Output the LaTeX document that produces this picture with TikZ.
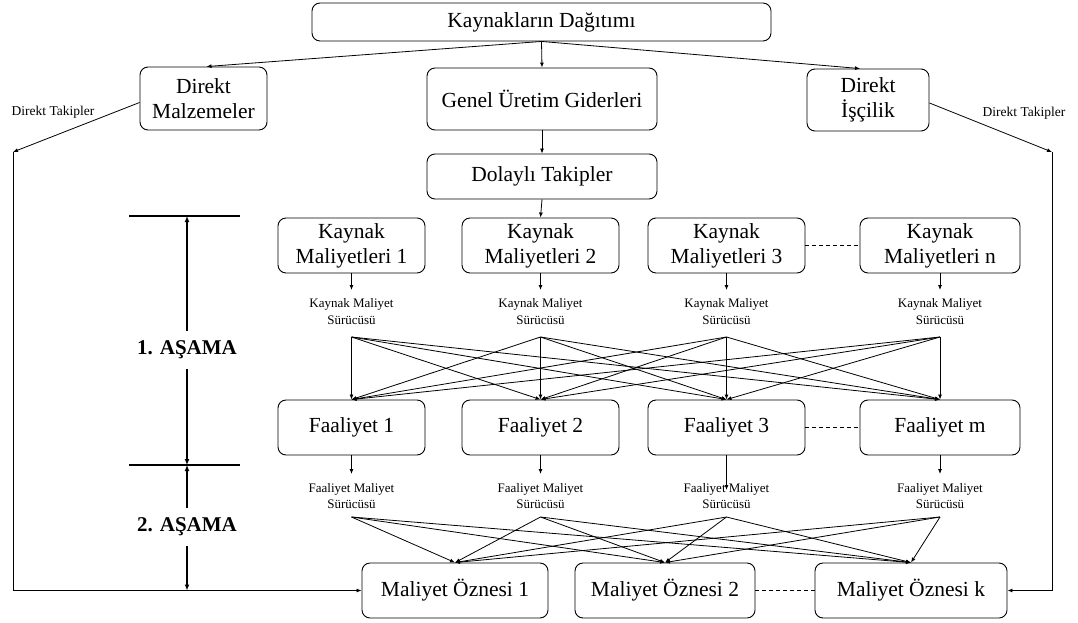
\documentclass[tikz,border=0pt]{standalone}
\usepackage{fontspec}
\setmainfont{Liberation Serif}
\usetikzlibrary{arrows.meta}
\begin{document}
\begin{tikzpicture}[x=1pt,y=-1pt,
  box/.style={draw, rounded corners=8pt, align=center, inner sep=0pt,
    font=\fontsize{21.5}{25}\selectfont, line width=0.9pt},
  drv/.style={align=center, inner sep=0pt, font=\fontsize{13}{16.5}\selectfont},
  side/.style={inner sep=0pt, font=\fontsize{13.5}{16}\selectfont},
  stage/.style={font=\fontsize{21}{22}\selectfont\bfseries, inner sep=0pt, minimum height=38pt},
  arr/.style={-{Latex[length=5pt,width=4pt]}, line width=0.8pt},
  ln/.style={line width=0.8pt},
  dline/.style={dashed, dash pattern=on 4pt off 3pt, line width=0.8pt},
  bar/.style={line width=1.6pt},
  stagearr/.style={-{Latex[length=6pt,width=5pt]}, line width=1.4pt}
]
\useasboundingbox (0,0) rectangle (1078,623);

% top level
\node[box, minimum width=459pt, minimum height=38pt] (top) at (541.5,22) {Kaynakların Dağıtımı};
\node[box, minimum width=127pt, minimum height=63pt] (dm) at (203.5,98.5) {Direkt\\Malzemeler};
\node[box, minimum width=230pt, minimum height=62pt] (gug) at (542,99) {Genel Üretim Giderleri};
\node[box, minimum width=122pt, minimum height=62pt] (di) at (868,100) {Direkt\\İşçilik};
\node[box, minimum width=230pt, minimum height=45pt] (dt) at (542,176.5) {Dolaylı Takipler};

% resource costs
\node[box, minimum width=147pt, minimum height=55pt] (k1) at (351.5,245.5) {Kaynak\\Maliyetleri 1};
\node[box, minimum width=157pt, minimum height=55pt] (k2) at (540.5,245.5) {Kaynak\\Maliyetleri 2};
\node[box, minimum width=157pt, minimum height=55pt] (k3) at (726.5,245.5) {Kaynak\\Maliyetleri 3};
\node[box, minimum width=160pt, minimum height=55pt] (kn) at (940,245.5) {Kaynak\\Maliyetleri n};

% activities
\node[box, minimum width=147pt, minimum height=55pt] (f1) at (351.5,427.5) {Faaliyet 1};
\node[box, minimum width=157pt, minimum height=55pt] (f2) at (540.5,427.5) {Faaliyet 2};
\node[box, minimum width=157pt, minimum height=55pt] (f3) at (726.5,427.5) {Faaliyet 3};
\node[box, minimum width=160pt, minimum height=55pt] (fm) at (940,427.5) {Faaliyet m};

% cost objects
\node[box, minimum width=186pt, minimum height=55pt] (o1) at (455,590.5) {Maliyet Öznesi 1};
\node[box, minimum width=180pt, minimum height=55pt] (o2) at (665,590.5) {Maliyet Öznesi 2};
\node[box, minimum width=192pt, minimum height=55pt] (ok) at (911,590.5) {Maliyet Öznesi k};

% resource cost drivers
\foreach \i/\x in {1/351.5,2/540.5,3/726.5,n/940}{
  \node[drv] (kd\i) at (\x,311.5) {Kaynak Maliyet\\Sürücüsü};
  \coordinate (ks\i) at (\x,337);
  \draw[arr] (k\i.south) -- (\x,290);
}
% activity cost drivers
\foreach \i/\x in {1/351.5,2/540.5,3/726.5,m/940}{
  \node[drv] (fd\i) at (\x,496) {Faaliyet Maliyet\\Sürücüsü};
  \coordinate (fs\i) at (\x,517);
}
\draw[arr] (f1.south) -- (351.5,474);
\draw[arr] (f2.south) -- (540.5,474);
\draw[arr] (f3.south) -- ([yshift=6pt]fd3.center);
\draw[arr] (fm.south) -- (940,474);

% stage 1 links: every resource driver to every activity
\foreach \s in {1,2,3,n}{
  \foreach \t in {1,2,3,m}{
    \draw[arr] (ks\s) -- (f\t.north);
  }
}
% stage 2 links: every activity driver to every cost object
\foreach \s in {1,2,3,m}{
  \foreach \t in {1,2,k}{
    \draw[arr] (fs\s) -- (o\t.north);
  }
}

% top connectors
\draw[arr] (top.south) -- ([xshift=3pt]dm.north);
\draw[arr] (top.south) -- (gug.north);
\draw[arr] (top.south) -- ([xshift=-8pt]di.north);
\draw[arr] (gug.south) -- (dt.north);
\draw[arr] (dt.south) -- (k2.north);

% dashed continuations
\draw[dline] (k3.east) -- (kn.west);
\draw[dline] (f3.east) -- (fm.west);
\draw[dline] (o2.east) -- (ok.west);

% direct tracing paths
\coordinate (lt) at (13,152);
\coordinate (lb) at (13,590.5);
\coordinate (rt) at (1052,152);
\coordinate (rb) at (1052,590.5);
\draw[arr] ([yshift=-4pt]dm.west) -- (lt);
\draw[arr] (lt) -- (lb) -- (o1.west);
\draw[arr] ([yshift=-3pt]di.east) -- (rt);
\draw[arr] (rt) -- (rb) -- (ok.east);
\node[side] (dtl) at (53,112) {Direkt Takipler};
\node[side] (dtr) at (1024,113) {Direkt Takipler};

% stage markers
\coordinate (b1l) at (129,216);
\coordinate (b1r) at (240,216);
\coordinate (b2l) at (129,465);
\coordinate (b2r) at (240,465);
\draw[bar] (b1l) -- (b1r);
\draw[bar] (b2l) -- (b2r);
\node[stage] (s1) at (187,350) {1. AŞAMA};
\node[stage] (s2) at (187,527) {2. AŞAMA};
\draw[stagearr] (s1.north) -- (187,216);
\draw[stagearr] (s1.south) -- (187,465);
\draw[stagearr] (s2.north) -- (187,465);
\draw[stagearr] (s2.south) -- (187,590.5);
\end{tikzpicture}
\end{document}
